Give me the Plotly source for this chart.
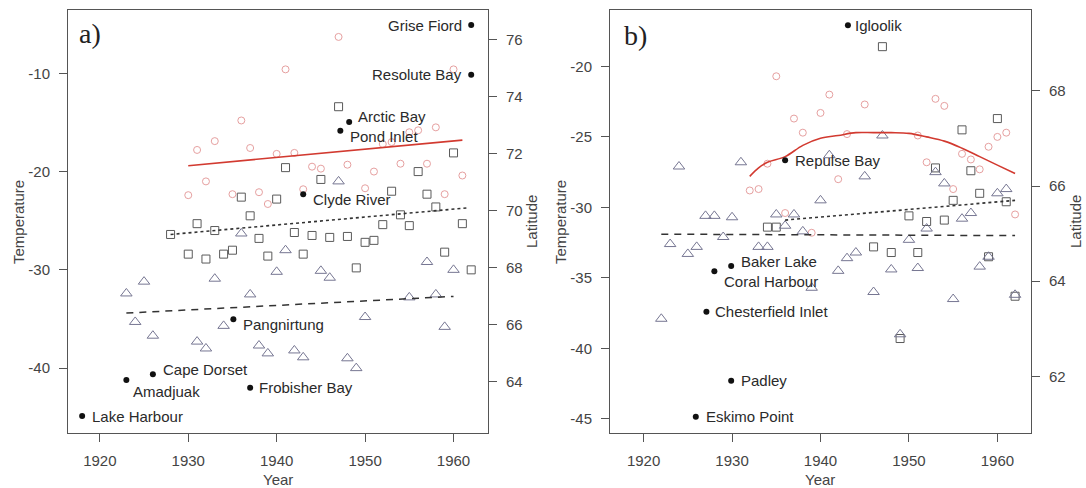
import plotly.graph_objects as go

# ---------------- Panel a data ----------------
a_circle_year = [1930, 1931, 1932, 1933, 1935, 1936, 1937, 1938, 1939, 1940, 1941, 1942, 1943, 1944,
                 1945, 1947, 1948, 1950, 1951, 1952, 1953, 1954, 1955, 1956, 1957, 1958, 1959, 1960, 1961]
a_circle_temp = [-22.4, -17.8, -21.0, -16.9, -22.3, -14.8, -17.6, -22.1, -23.3, -18.2, -9.6, -18.1, -21.8, -19.5,
                 -19.7, -6.3, -19.3, -21.7, -20.0, -17.2, -17.0, -19.2, -16.0, -15.8, -19.2, -15.5, -22.3, -9.6, -20.4]

a_square_year = [1928, 1930, 1931, 1932, 1933, 1934, 1935, 1936, 1937, 1938, 1939, 1940, 1941, 1942, 1943,
                 1944, 1945, 1946, 1947, 1948, 1949, 1950, 1951, 1952, 1953, 1954, 1955, 1956, 1957, 1958,
                 1959, 1960, 1961, 1962]
a_square_temp = [-26.4, -28.4, -25.3, -28.9, -26.0, -28.4, -28.0, -22.6, -24.5, -26.8, -28.6, -22.8, -19.6, -26.2, -28.4,
                 -26.5, -20.8, -26.7, -13.4, -26.6, -29.8, -27.2, -27.0, -25.4, -22.0, -24.4, -25.5, -20.0, -22.3, -23.6,
                 -28.2, -18.1, -25.3, -30.0]

a_tri_year = [1923, 1924, 1925, 1926, 1931, 1932, 1933, 1934, 1936, 1937, 1938, 1939, 1940, 1941, 1942, 1943,
              1945, 1946, 1947, 1948, 1949, 1950, 1955, 1957, 1958, 1959, 1960]
a_tri_temp = [-32.4, -35.3, -31.2, -36.7, -37.3, -38.0, -30.9, -35.7, -26.3, -32.5, -37.7, -38.5, -30.2, -28.0, -38.2, -38.9,
              -30.1, -30.8, -21.0, -39.0, -40.0, -34.8, -32.8, -29.2, -32.5, -35.8, -30.0]

a_red_year = [1930, 1961]
a_red_temp = [-19.4, -16.8]
a_dot_year = [1928, 1961.5]
a_dot_temp = [-26.4, -23.7]
a_dash_year = [1923, 1960]
a_dash_temp = [-34.4, -32.7]

a_station = ["Grise Fiord", "Resolute Bay", "Arctic Bay", "Pond Inlet", "Clyde River", "Pangnirtung",
             "Cape Dorset", "Amadjuak", "Frobisher Bay", "Lake Harbour"]
a_station_year = [1962, 1962, 1948.2, 1947.2, 1943, 1935.1, 1926, 1923, 1937, 1918]
a_station_lat = [76.5, 74.76, 73.1, 72.8, 70.57, 66.19, 64.26, 64.06, 63.79, 62.8]

# ---------------- Panel b data ----------------
b_circle_year = [1932, 1933, 1934, 1935, 1936, 1937, 1938, 1939, 1940, 1941, 1942, 1943, 1945, 1951, 1952,
                 1953, 1954, 1955, 1956, 1957, 1958, 1959, 1960, 1961, 1962]
b_circle_temp = [-28.8, -28.7, -26.9, -20.7, -30.4, -23.7, -24.7, -31.8, -23.3, -22.0, -28.0, -24.8, -22.7, -24.9, -26.8,
                 -22.3, -22.8, -28.7, -26.2, -26.6, -27.3, -25.7, -25.0, -24.7, -30.5]

b_square_year = [1934, 1935, 1946, 1947, 1948, 1949, 1950, 1951, 1952, 1953, 1954, 1955, 1956, 1957, 1958,
                 1959, 1960, 1961, 1962]
b_square_temp = [-31.4, -31.4, -32.8, -18.6, -33.2, -39.3, -30.6, -33.2, -31.0, -27.2, -30.9, -29.5, -24.5, -27.4, -29.0,
                 -33.5, -23.7, -29.6, -36.3]

b_tri_year = [1922, 1923, 1924, 1925, 1926, 1927, 1928, 1929, 1930, 1931, 1933, 1934, 1935, 1936, 1937, 1938,
              1939, 1940, 1941, 1942, 1943, 1944, 1945, 1946, 1947, 1948, 1949, 1950, 1951, 1952, 1953, 1954,
              1955, 1956, 1957, 1958, 1959, 1960, 1961, 1962]
b_tri_temp = [-37.9, -32.6, -27.1, -33.3, -32.8, -30.6, -30.6, -32.1, -30.7, -26.8, -32.8, -32.8, -30.5, -31.3, -30.5, -31.7,
              -35.7, -29.5, -26.3, -34.5, -33.6, -33.2, -27.8, -36.0, -24.9, -34.4, -39.0, -32.3, -34.3, -31.5, -27.5, -28.3,
              -36.5, -30.8, -30.4, -34.2, -33.5, -29.0, -28.7, -36.2]

b_red_year = [1932, 1933, 1934, 1936, 1938, 1940, 1942, 1944, 1946, 1948, 1950, 1952, 1954, 1956, 1958, 1960, 1962]
b_red_temp = [-27.8, -27.2, -26.8, -26.4, -25.6, -25.1, -24.9, -24.7, -24.7, -24.7, -24.75, -25.0, -25.3, -25.8, -26.4,
              -27.0, -27.6]
b_dot_year = [1936, 1962]
b_dot_temp = [-30.9, -29.5]
b_dash_year = [1922, 1962]
b_dash_temp = [-31.9, -32.0]

b_station = ["Igloolik", "Repulse Bay", "Baker Lake", "Coral Harbour", "Chesterfield Inlet", "Padley", "Eskimo Point"]
b_station_year = [1943.1, 1936, 1929.9, 1928, 1927.1, 1929.9, 1925.9]
b_station_lat = [69.38, 66.54, 64.32, 64.21, 63.36, 61.91, 61.15]

# tick labels
year_ticks = [1920, 1930, 1940, 1950, 1960]
year_ticktext = ["1920", "1930", "1940", "1950", "1960"]
a_temp_ticks = [-10, -20, -30, -40]
a_temp_ticktext = ["-10", "-20", "-30", "-40"]
a_lat_ticks = [64, 66, 68, 70, 72, 74, 76]
a_lat_ticktext = ["64", "66", "68", "70", "72", "74", "76"]
b_temp_ticks = [-20, -25, -30, -35, -40, -45]
b_temp_ticktext = ["-20", "-25", "-30", "-35", "-40", "-45"]
b_lat_ticks = [62, 64, 66, 68]
b_lat_ticktext = ["62", "64", "66", "68"]

# ---------------- label placement (px offsets) ----------------
a_label_pos = {
    "Grise Fiord": ("right", -7, 0), "Resolute Bay": ("right", -7, 0),
    "Arctic Bay": ("left", 7, 6), "Pond Inlet": ("left", 8, -6),
    "Clyde River": ("left", 8, -5), "Pangnirtung": ("left", 8, -5),
    "Cape Dorset": ("left", 8, 5), "Amadjuak": ("left", 5, -12),
    "Frobisher Bay": ("left", 7, 0), "Lake Harbour": ("left", 8, -1),
}
b_label_pos = {
    "Igloolik": ("left", 5, 0), "Repulse Bay": ("left", 8, 0),
    "Baker Lake": ("left", 8, 4), "Coral Harbour": ("left", 8, -10),
    "Chesterfield Inlet": ("left", 7, 0), "Padley": ("left", 8, 0),
    "Eskimo Point": ("left", 8, 0),
}

W, H = 1086, 488
xa_dom = [68 / W, 488 / W]
xb_dom = [610 / W, 1031 / W]
y_dom = [1 - 433 / H, 1 - 10 / H]

FONT = "Liberation Sans"
tickfont = dict(family=FONT, size=15, color="#444")
circle_style = dict(symbol="circle-open", size=7, color="#e6a0a0", line=dict(width=1, color="#e6a0a0"))
square_style = dict(symbol="square-open", size=8, color="#5a5a5a", line=dict(width=1, color="#5a5a5a"))
tri_style = dict(symbol="triangle-up-open", size=10, color="#767692", line=dict(width=1, color="#767692"))
dot_style = dict(symbol="circle", size=6, color="#111")

fig = go.Figure()


def add_panel(xref, ytemp, ylat, cy, ct, sy, st, ty, tt, ry, rt, dy, dt, hy, ht, names, syears, slats, pos):
    fig.add_trace(go.Scatter(x=cy, y=ct, mode="markers", marker=circle_style, xaxis=xref, yaxis=ytemp))
    fig.add_trace(go.Scatter(x=sy, y=st, mode="markers", marker=square_style, xaxis=xref, yaxis=ytemp))
    fig.add_trace(go.Scatter(x=ty, y=tt, mode="markers", marker=tri_style, xaxis=xref, yaxis=ytemp))
    fig.add_trace(go.Scatter(x=ry, y=rt, mode="lines", line=dict(color="#d23a30", width=1.6),
                             line_shape="spline", xaxis=xref, yaxis=ytemp))
    fig.add_trace(go.Scatter(x=dy, y=dt, mode="lines", line=dict(color="#333", width=1.6, dash="dot"),
                             xaxis=xref, yaxis=ytemp))
    fig.add_trace(go.Scatter(x=hy, y=ht, mode="lines", line=dict(color="#333", width=1.5, dash="7px,6px"),
                             xaxis=xref, yaxis=ytemp))
    fig.add_trace(go.Scatter(x=syears, y=slats, mode="markers", marker=dot_style, xaxis=xref, yaxis=ylat))
    for n, yr, lat in zip(names, syears, slats):
        anc, xs, ys = pos[n]
        fig.add_annotation(x=yr, y=lat, xref=xref, yref=ylat, text=n, showarrow=False,
                           xanchor=anc, yanchor="middle", xshift=xs, yshift=ys,
                           font=dict(family=FONT, size=15, color="#2a2a2a"))


add_panel("x", "y", "y2", a_circle_year, a_circle_temp, a_square_year, a_square_temp, a_tri_year, a_tri_temp,
          a_red_year, a_red_temp, a_dot_year, a_dot_temp, a_dash_year, a_dash_temp,
          a_station, a_station_year, a_station_lat, a_label_pos)
add_panel("x2", "y3", "y4", b_circle_year, b_circle_temp, b_square_year, b_square_temp, b_tri_year, b_tri_temp,
          b_red_year, b_red_temp, b_dot_year, b_dot_temp, b_dash_year, b_dash_temp,
          b_station, b_station_year, b_station_lat, b_label_pos)

base = dict(showgrid=False, zeroline=False, ticks="outside", ticklen=8, tickwidth=1, tickcolor="#555",
            linecolor="#555", linewidth=1, tickfont=tickfont)

fig.update_layout(
    width=W, height=H, margin=dict(l=0, r=0, t=0, b=0),
    paper_bgcolor="white", plot_bgcolor="white", showlegend=False,
    xaxis=dict(base, domain=xa_dom, anchor="y", range=[1916.4, 1963.9], tickvals=year_ticks,
               ticktext=year_ticktext, showline=True, mirror=True, ticklabelstandoff=6),
    yaxis=dict(base, domain=y_dom, anchor="x", range=[-46.6, -3.56], tickvals=a_temp_ticks,
               ticktext=a_temp_ticktext, showline=True, mirror=True, ticklabelstandoff=6),
    yaxis2=dict(base, overlaying="y", anchor="x", side="right", range=[62.2, 77.03], tickvals=a_lat_ticks,
                ticktext=a_lat_ticktext, showline=False, ticklabelstandoff=6),
    xaxis2=dict(base, domain=xb_dom, anchor="y3", range=[1916.2, 1963.8], tickvals=year_ticks,
                ticktext=year_ticktext, showline=True, mirror=True, ticklabelstandoff=6),
    yaxis3=dict(base, domain=y_dom, anchor="x2", range=[-46.0, -16.0], tickvals=b_temp_ticks,
                ticktext=b_temp_ticktext, showline=True, mirror=True, ticklabelstandoff=6),
    yaxis4=dict(base, overlaying="y3", anchor="x2", side="right", range=[60.81, 69.7], tickvals=b_lat_ticks,
                ticktext=b_lat_ticktext, showline=False, ticklabelstandoff=6),
)

title_font = dict(family=FONT, size=15, color="#444")
for txt, x, y, ang in [("Temperature", 18, 222, -90), ("Latitude", 531, 222, -90), ("Year", 278, 479, 0),
                       ("Temperature", 560, 222, -90), ("Latitude", 1075, 222, -90), ("Year", 820, 479, 0)]:
    fig.add_annotation(x=x / W, y=1 - y / H, xref="paper", yref="paper", text=txt, showarrow=False,
                       textangle=ang, xanchor="center", yanchor="middle", font=title_font)

for txt, x, y in [("a)", 77, 33), ("b)", 622, 36)]:
    fig.add_annotation(x=x / W, y=1 - y / H, xref="paper", yref="paper", text=txt, showarrow=False,
                       xanchor="left", yanchor="middle",
                       font=dict(family="Liberation Serif", size=28, color="#222"))

fig.write_html("out.html")
